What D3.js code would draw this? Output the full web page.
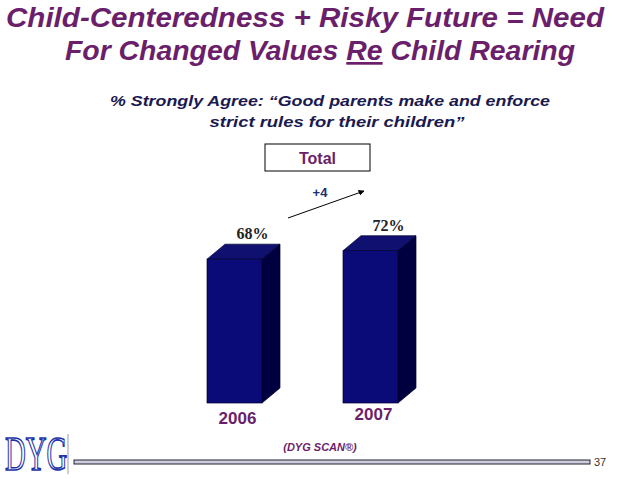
<!DOCTYPE html><html><head><meta charset="utf-8"><script src="https://cdn.jsdelivr.net/npm/d3@7"></script>
<style>body{margin:0;background:#fff}</style></head><body><svg id="c" width="638" height="479"></svg>
<script>
const categories=["2006","2007"];
const values=[68,72];
const valueLabels=["68%","72%"];
const changeLabel="+4";
const svg=d3.select("#c");
const purple="#6B1F6B",navy="#0A0A78";
const x=d3.scalePoint().domain(categories).range([234.5,370.5]);
const y=d3.scaleLinear().domain([0,100]).range([403,191.5]);
const w=55,dx=18,dy=15;
const tf=s=>s.attr("font-family","Arial, Liberation Sans").attr("font-weight","bold").attr("font-style","italic");
svg.append("text").call(tf).attr("x",305).attr("y",27).attr("text-anchor","middle").attr("font-size",27).attr("textLength",598).attr("lengthAdjust","spacingAndGlyphs").attr("fill",purple).text("Child-Centeredness + Risky Future = Need");
const t2=svg.append("text").call(tf).attr("x",320).attr("y",60).attr("text-anchor","middle").attr("font-size",27).attr("textLength",510).attr("lengthAdjust","spacingAndGlyphs").attr("fill",purple);
t2.append("tspan").text("For Changed Values ");
t2.append("tspan").attr("text-decoration","underline").text("Re");
t2.append("tspan").text(" Child Rearing");
const sub=["% Strongly Agree: “Good parents make and enforce","strict rules for their children”"];
const subW=[440,255];
sub.forEach((s,i)=>svg.append("text").call(tf).attr("x",i?337:330).attr("y",106+i*21).attr("text-anchor","middle").attr("font-size",15.5).attr("textLength",subW[i]).attr("lengthAdjust","spacingAndGlyphs").attr("fill","#1a1a50").text(s));
svg.append("rect").attr("x",265).attr("y",144).attr("width",105).attr("height",27).attr("fill","#fff").attr("stroke","#000");
svg.append("text").attr("x",317.5).attr("y",164).attr("text-anchor","middle").attr("font-family","Arial, Liberation Sans").attr("font-weight","bold").attr("font-size",16).attr("fill",purple).text("Total");
categories.forEach((c,i)=>{
 const x0=x(c)-w/2,yt=y(values[i]),yb=y(0);
 const g=svg.append("g");
 g.append("polygon").attr("points",[[x0,yt],[x0+dx,yt-dy],[x0+w+dx,yt-dy],[x0+w,yt]].join(" ")).attr("fill","#101070").attr("stroke","#000030").attr("stroke-width",0.7);
 g.append("polygon").attr("points",[[x0+w,yt],[x0+w+dx,yt-dy],[x0+w+dx,yb-dy],[x0+w,yb]].join(" ")).attr("fill","#000040").attr("stroke","#000030").attr("stroke-width",0.7);
 g.append("rect").attr("x",x0).attr("y",yt).attr("width",w).attr("height",yb-yt).attr("fill",navy).attr("stroke","#000030").attr("stroke-width",0.7);
 svg.append("text").attr("x",x(c)+18).attr("y",yt-20).attr("text-anchor","middle").attr("font-family","Liberation Serif, Times New Roman").attr("font-weight","bold").attr("font-size",16).attr("fill","#222").text(valueLabels[i]);
 svg.append("text").attr("x",x(c)+3).attr("y",yb+21-i*4).attr("text-anchor","middle").attr("font-family","Arial, Liberation Sans").attr("font-weight","bold").attr("font-size",17).attr("fill",purple).text(c);
});
svg.append("defs").append("marker").attr("id","ah").attr("viewBox","0 0 10 10").attr("refX",9).attr("refY",5).attr("markerWidth",6).attr("markerHeight",6).attr("orient","auto").append("path").attr("d","M0,0L10,5L0,10z").attr("fill","#000");
svg.append("line").attr("x1",288).attr("y1",218).attr("x2",364).attr("y2",191).attr("stroke","#000").attr("stroke-width",1).attr("marker-end","url(#ah)");
svg.append("text").attr("x",320).attr("y",197).attr("text-anchor","middle").attr("font-family","Arial, Liberation Sans").attr("font-weight","bold").attr("font-size",13).attr("fill","#1a3070").text(changeLabel);
svg.append("text").call(tf).attr("x",320).attr("y",451).attr("text-anchor","middle").attr("font-size",11).attr("fill",purple).text("(DYG SCAN®)");
svg.append("rect").attr("x",74).attr("y",460).attr("width",516).attr("height",4).attr("fill","#ccd").attr("stroke","#223").attr("stroke-width",1);
svg.append("text").attr("x",594).attr("y",466).attr("font-family","Arial, Liberation Sans").attr("font-size",11).attr("fill","#333").text("37");
svg.append("text").attr("transform","translate(5,470) scale(0.6,1)").attr("font-family","Liberation Serif, Times New Roman").attr("font-size",48).attr("fill","#fff").attr("stroke","#2233aa").attr("stroke-width",1.6).text("DYG");
svg.append("line").attr("x1",68).attr("x2",68).attr("y1",434).attr("y2",474).attr("stroke","#99a").attr("stroke-width",1);
</script></body></html>
